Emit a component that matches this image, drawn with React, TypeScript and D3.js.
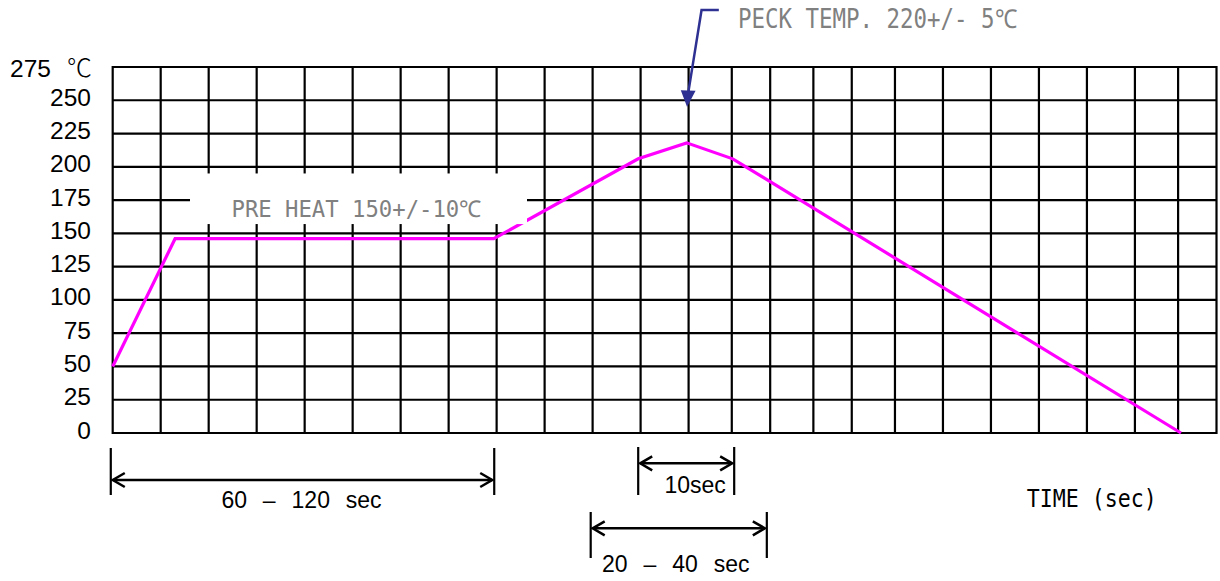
import React from "react";
import * as d3 from "d3";

// ---- data ----
const tempTicks = [0, 25, 50, 75, 100, 125, 150, 175, 200, 225, 250, 275];
// vertical grid lines (time, sec) — the schematic has uneven columns near the peak
const gridTimes = [0, 10, 20, 30, 40, 50, 60, 70, 80, 90, 100, 110, 120, 129, 137, 146, 154, 163, 173, 183, 193, 203, 213, 222, 230];
const profileTime = [0, 13, 79.4, 109.5, 119.6, 129.2, 222.6];
const profileTemp = [50, 146, 146, 206, 218, 206, 0];
const spanLabels = ["60 – 120 sec", "10sec", "20 – 40 sec"];
const spanStart = [-0.4, 109.5, 99.6];
const spanEnd = [79.5, 129.5, 136.3];
const peakLabel = "PECK TEMP. 220+/- 5℃";
const preheatLabel = "PRE HEAT 150+/-10℃";
const timeLabel = "TIME (sec)";
const unitLabel = "℃";

export default function App() {
  const W = 1220, H = 581;
  const x = d3.scaleLinear().domain([0, 230]).range([112.7, 1216.5]);
  const y = d3.scaleLinear().domain([0, 275]).range([433, 67]);
  const line = d3.line<number>().x((d, i) => x(profileTime[i])).y((d, i) => y(profileTemp[i]));
  const pts = profileTime.map((t, i) => i);

  const monoFont = "'DejaVu Sans Mono', 'Liberation Mono', monospace";
  const sansFont = "'Liberation Sans', Arial, sans-serif";

  // dimension line geometry (vertical placement of each dimension row)
  const spanRows = [
    { barTop: 448, barBot: 495, arrowY: 480, textY: 508.3, dx: -1 },
    { barTop: 447, barBot: 495, arrowY: 463.3, textY: 492.7, dx: 9 },
    { barTop: 512, barBot: 558, arrowY: 528.3, textY: 571.7, dx: -3 },
  ];

  const chevron = (px: number, py: number, dir: number) =>
    `M${px + dir * 12},${py - 7} L${px},${py} L${px + dir * 12},${py + 7}`;

  return (
    <svg width={W} height={H} style={{ position: "absolute", left: 0, top: 0, background: "#fff" }}>
      {/* horizontal grid */}
      {tempTicks.map((v) => (
        <line key={"h" + v} x1={x(0)} x2={x(230)} y1={y(v)} y2={y(v)} stroke="#000" strokeWidth={2.2} />
      ))}
      {/* vertical grid */}
      {gridTimes.map((t) => (
        <line key={"v" + t} x1={x(t)} x2={x(t)} y1={y(275) - 1} y2={y(0) + 1} stroke="#000" strokeWidth={2.2} />
      ))}
      {/* profile */}
      <path d={line(pts) || ""} fill="none" stroke="#FF00FF" strokeWidth={3.2} strokeLinejoin="miter" />
      {/* preheat label box */}
      <rect x={190} y={y(195)} width={337} height={y(157) - y(195)} fill="#fff" />
      <text x={x(50.8)} y={y(162)} textAnchor="middle" fontFamily={monoFont} fontSize={23} fill="#808080"
        textLength={250} lengthAdjust="spacingAndGlyphs">{preheatLabel}</text>

      {/* y tick labels */}
      {tempTicks.filter((v) => v < 275).map((v) => (
        <text key={"t" + v} x={91} y={y(v) - 3} textAnchor="end" dominantBaseline="central"
          fontFamily={sansFont} fontSize={24.5} fill="#000">{v}</text>
      ))}
      <text x={51} y={y(275) + 1} textAnchor="end" dominantBaseline="central" fontFamily={sansFont} fontSize={24.5} fill="#000">275</text>
      <text x={67} y={y(275) + 10} fontFamily="'Noto Sans CJK KR', 'DejaVu Serif', serif" fontWeight={300} fontSize={25} fill="#000">{unitLabel}</text>

      {/* peak annotation */}
      <path d={`M${x(126.3)},${y(317.8)} L${x(122.7)},${y(317.8)} L${x(119.9)},${y(255)}`} fill="none" stroke="#2E3192" strokeWidth={2.5} />
      <path d={`M${x(119.7)},${y(246.4)} L${x(118.6)},${y(257)} L${x(121.2)},${y(256.6)} Z`} fill="#2E3192" stroke="#2E3192" strokeWidth={1.5} />
      <text x={738} y={28.3} fontFamily={monoFont} fontSize={26} fill="#808080"
        textLength={279} lengthAdjust="spacingAndGlyphs">{peakLabel}</text>

      {/* dimension spans */}
      {spanLabels.map((lab, i) => {
        const r = spanRows[i];
        const a = x(spanStart[i]), b = x(spanEnd[i]);
        return (
          <g key={lab}>
            <line x1={a} x2={a} y1={r.barTop} y2={r.barBot} stroke="#000" strokeWidth={2.2} />
            <line x1={b} x2={b} y1={r.barTop} y2={r.barBot} stroke="#000" strokeWidth={2.2} />
            <line x1={a + 2} x2={b - 2} y1={r.arrowY} y2={r.arrowY} stroke="#000" strokeWidth={2.5} />
            <path d={chevron(a + 2, r.arrowY, 1)} fill="none" stroke="#000" strokeWidth={2.5} />
            <path d={chevron(b - 2, r.arrowY, -1)} fill="none" stroke="#000" strokeWidth={2.5} />
            <text x={(a + b) / 2 + r.dx} y={r.textY} textAnchor="middle" fontFamily={sansFont}
              fontSize={23} fill="#000" style={{ wordSpacing: "9.5px" }}>{lab}</text>
          </g>
        );
      })}

      <text x={1026.7} y={506.7} fontFamily={monoFont} fontSize={24} fill="#000"
        textLength={130} lengthAdjust="spacingAndGlyphs">{timeLabel}</text>
    </svg>
  );
}
